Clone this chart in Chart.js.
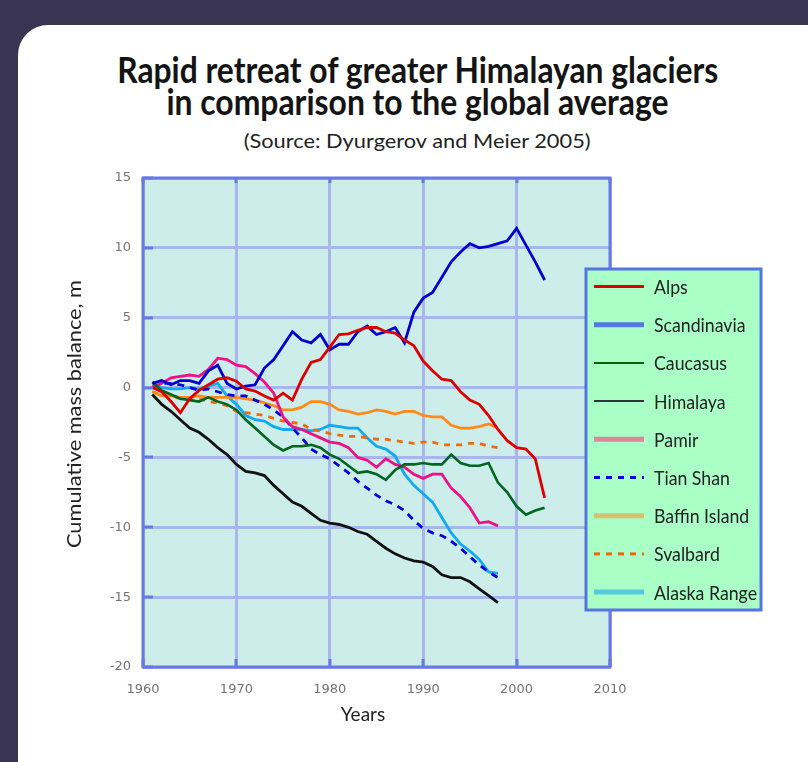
<!DOCTYPE html>
<html><head><meta charset="utf-8">
<script src="https://cdn.jsdelivr.net/npm/chart.js@4.4.1/dist/chart.umd.min.js"></script>
<style>
html,body{margin:0;padding:0;width:808px;height:762px;overflow:hidden;background:#383452;}
#card{position:absolute;left:18px;top:25px;width:830px;height:800px;background:#fff;border-radius:30px;}
.t{position:absolute;left:0;width:835px;text-align:center;white-space:nowrap;color:#141414;font-family:Lato,"Noto Sans",sans-serif;}
.t span{display:inline-block;transform-origin:50% 50%;}
#t1{top:51px;font-weight:bold;font-size:37px;line-height:36px;}
#t2{top:83px;font-weight:bold;font-size:37px;line-height:36px;}
#t3{top:131px;font-size:19px;line-height:19px;color:#222;}
canvas{position:absolute;left:0;top:0;}
</style></head>
<body>
<div id="card"></div>
<div class="t" id="t1"><span data-w="601">Rapid retreat of greater Himalayan glaciers</span></div>
<div class="t" id="t2"><span data-w="502">in comparison to the global average</span></div>
<div class="t" id="t3"><span data-w="347">(Source: Dyurgerov and Meier 2005)</span></div>
<canvas id="c" width="808" height="762"></canvas>
<script>
const years = [1961,1962,1963,1964,1965,1966,1967,1968,1969,1970,1971,1972,1973,1974,1975,1976,1977,1978,1979,1980,1981,1982,1983,1984,1985,1986,1987,1988,1989,1990,1991,1992,1993,1994,1995,1996,1997,1998,1999,2000,2001,2002,2003];
const seriesNames = ['Alps','Scandinavia','Caucasus','Himalaya','Pamir','Tian Shan','Baffin Island','Svalbard','Alaska Range'];
const alps = [0.0,-0.3,-1.0,-1.8,-0.8,-0.2,0.2,0.6,0.7,0.45, -0.1,-0.25,-0.6,-0.9,-0.4,-0.9,0.6,1.8,2.0,2.9, 3.8,3.85,4.1,4.3,4.3,4.0,3.9,3.4,3.0,1.9, 1.2,0.6,0.5,-0.3,-0.9,-1.2,-2.0,-3.0,-3.8,-4.3, -4.4,-5.1,-7.9];
const scandinavia = [0.3,0.5,0.2,0.5,0.5,0.3,1.2,1.6,0.3,-0.1, 0.1,0.2,1.4,2.0,3.0,4.0,3.4,3.2,3.8,2.7, 3.1,3.1,4.0,4.4,3.8,4.0,4.3,3.2,5.4,6.4, 6.8,7.9,9.0,9.7,10.3,10.0,10.1,10.3,10.5,11.4, 10.2,9.0,7.7];
const caucasus = [0.4,-0.2,-0.5,-0.8,-0.9,-1.0,-0.7,-1.0,-1.2,-1.6, -2.3,-2.9,-3.5,-4.1,-4.5,-4.2,-4.2,-4.1,-4.3,-4.8, -5.1,-5.6,-6.1,-6.0,-6.2,-6.6,-5.9,-5.5,-5.5,-5.4, -5.5,-5.5,-4.8,-5.4,-5.6,-5.6,-5.4,-6.8,-7.5,-8.5, -9.1,-8.8,-8.6];
const himalaya = [-0.5,-1.2,-1.7,-2.3,-2.9,-3.2,-3.7,-4.3,-4.8,-5.5, -6.0,-6.1,-6.3,-7.0,-7.6,-8.2,-8.5,-9.0,-9.5,-9.7, -9.8,-10.0,-10.3,-10.5,-11.0,-11.5,-11.9,-12.2,-12.4,-12.5, -12.8,-13.4,-13.6,-13.6,-13.9,-14.4,-14.9,-15.4];
const pamir = [0.0,0.3,0.7,0.8,0.9,0.8,1.3,2.1,2.0,1.6, 1.5,1.0,0.4,-0.4,-2.1,-2.8,-3.0,-3.3,-3.6,-3.9, -4.0,-4.3,-5.0,-5.2,-5.7,-5.1,-5.5,-5.7,-6.2,-6.5, -6.2,-6.2,-7.2,-7.8,-8.6,-9.7,-9.6,-9.9];
const tianShan = [0.0,0.3,0.3,0.2,0.0,-0.2,-0.1,-0.3,-0.5,-0.6, -0.6,-0.9,-1.2,-1.6,-2.1,-2.9,-3.6,-4.4,-4.8,-5.1, -5.6,-6.1,-6.7,-7.2,-7.7,-8.1,-8.4,-8.8,-9.5,-10.1, -10.4,-10.6,-11.0,-11.5,-12.1,-12.7,-13.2,-13.6];
const baffinIsland = [-0.3,-0.6,-0.6,-0.7,-0.7,-0.6,-0.7,-0.7,-0.7,-0.7, -0.8,-0.9,-1.1,-1.3,-1.6,-1.6,-1.4,-1.0,-1.0,-1.2, -1.6,-1.7,-1.9,-1.8,-1.6,-1.7,-1.9,-1.7,-1.7,-2.0, -2.1,-2.1,-2.7,-2.9,-2.9,-2.8,-2.6,-2.9];
const svalbard = [-0.3,-0.5,-0.6,-0.8,-0.9,-0.8,-1.0,-1.1,-1.3,-1.7, -1.8,-1.9,-2.0,-2.2,-2.4,-2.5,-2.6,-3.0,-3.1,-3.3, -3.4,-3.5,-3.5,-3.6,-3.7,-3.7,-3.8,-3.9,-4.0,-3.9, -3.9,-4.1,-4.1,-4.1,-4.0,-4.0,-4.2,-4.3];
const alaskaRange = [0.2,0.0,-0.1,-0.1,0.0,-0.1,0.1,0.3,-0.6,-1.2, -2.0,-2.3,-2.4,-2.8,-3.0,-3.0,-3.0,-3.1,-3.0,-2.7, -2.8,-2.9,-2.9,-3.6,-4.2,-4.4,-4.9,-6.2,-7.0,-7.6, -8.2,-9.3,-10.4,-11.2,-11.7,-12.3,-13.2,-13.3];
const xTickLabels = ['1960','1970','1980','1990','2000','2010'];
const yTickLabels = ['-20','-15','-10','-5','0','5','10','15'];
const yAxisTitle = 'Cumulative mass balance, m';
const xAxisTitle = 'Years';

// styles
const lineColors = ['#dd0000','#0000cc','#006622','#111111','#ee1188','#0000dd','#ff8a1a','#ee6a10','#11aaee'];
const lineWidths = [2.8,2.8,2.6,2.8,2.8,2.8,2.8,2.8,2.8];
const lineDashes = [[],[],[],[],[],[7,6],[],[6,6],[]];
const legendColors = ['#dd0000','#5577dd','#006600','#333333','#dd8899','#0000dd','#d8c070','#ee6611','#55ccdd'];
const legendWidths = [3,5,2,2,5,3,5,3,5];
const legendDashes = [[],[],[],[],[],[6,6],[],[6,6],[]];

// fit titles
document.querySelectorAll('.t span').forEach(s=>{
  const w = s.getBoundingClientRect().width;
  s.style.transform = 'scaleX(' + (parseFloat(s.dataset.w)/w) + ')';
});

const allSeries = [alps,scandinavia,caucasus,himalaya,pamir,tianShan,baffinIsland,svalbard,alaskaRange];
const datasets = allSeries.map((vals,i)=>({
  label: seriesNames[i],
  data: vals.map((v,j)=>({x:years[j], y:v})),
  borderColor: lineColors[i],
  backgroundColor: lineColors[i],
  borderWidth: lineWidths[i],
  borderDash: lineDashes[i],
  pointRadius: 0,
  tension: 0,
  fill: false
}));

const plotDeco = {
  id:'plotDeco',
  beforeDraw(chart){
    const {ctx, chartArea:a} = chart;
    ctx.save();
    ctx.fillStyle = '#ccede9';
    ctx.fillRect(a.left, a.top, a.right-a.left, a.bottom-a.top);
    ctx.restore();
  },
  afterDraw(chart){
    const {ctx, chartArea:a, scales} = chart;
    ctx.save();
    ctx.strokeStyle = '#6878e4'; ctx.lineWidth = 3;
    scales.y.ticks.forEach(t=>{
      const y = Math.round(scales.y.getPixelForValue(t.value));
      ctx.beginPath(); ctx.moveTo(a.left, y); ctx.lineTo(a.left+10, y); ctx.stroke();
    });
    scales.x.ticks.forEach(t=>{
      const x = Math.round(scales.x.getPixelForValue(t.value));
      ctx.beginPath(); ctx.moveTo(x, a.bottom); ctx.lineTo(x, a.bottom-8); ctx.stroke();
      ctx.beginPath(); ctx.moveTo(x, a.top); ctx.lineTo(x, a.top+5); ctx.stroke();
    });
    ctx.strokeStyle = '#6a78e6'; ctx.lineWidth = 3;
    ctx.strokeRect(a.left, a.top, a.right-a.left, a.bottom-a.top);
    // legend
    const lx = 586, ly = 269, lw = 175, lh = 341;
    ctx.fillStyle = '#aaffc6';
    ctx.fillRect(lx, ly, lw, lh);
    ctx.strokeStyle = '#5577dd'; ctx.lineWidth = 3;
    ctx.strokeRect(lx, ly, lw, lh);
    ctx.font = '20px Lato, "Noto Sans", sans-serif';
    const sx = 103 / ctx.measureText('Alaska Range').width;
    chart.data.datasets.forEach((ds,i)=>{
      const y = 286.5 + i*38.2;
      ctx.beginPath();
      ctx.strokeStyle = legendColors[i]; ctx.lineWidth = legendWidths[i];
      ctx.setLineDash(legendDashes[i]);
      ctx.moveTo(594, y); ctx.lineTo(644, y); ctx.stroke();
      ctx.setLineDash([]);
      ctx.save();
      ctx.translate(654, y+7.5); ctx.scale(sx,1);
      ctx.fillStyle = '#222'; ctx.textBaseline = 'alphabetic'; ctx.textAlign = 'left';
      ctx.fillText(ds.label, 0, 0);
      ctx.restore();
    });
    // axis titles
    ctx.fillStyle = '#222';
    ctx.font = '19px Lato, "Noto Sans", sans-serif';
    ctx.textAlign = 'center'; ctx.textBaseline = 'middle';
    ctx.save();
    ctx.translate(75, 414); ctx.rotate(-Math.PI/2);
    const sy = 268 / ctx.measureText(yAxisTitle).width;
    ctx.scale(sy,1);
    ctx.fillText(yAxisTitle, 0, 0);
    ctx.restore();
    ctx.fillText(xAxisTitle, 363, 715);
    ctx.restore();
  }
};

new Chart(document.getElementById('c'), {
  type:'line',
  data:{datasets},
  options:{
    responsive:false,
    animation:false,
    events:[],
    layout:{padding:{left:20,right:198,top:178,bottom:10}},
    plugins:{legend:{display:false},tooltip:{enabled:false},title:{display:false}},
    scales:{
      x:{
        type:'linear', min:1960, max:2010,
        afterFit(s){ s.height = 762-667-10; },
        grid:{color:'#a9b6ee', lineWidth:3, drawTicks:false},
        border:{display:false},
        ticks:{stepSize:10, padding:15, color:'#737373', font:{family:'"DejaVu Sans"', size:13},
          callback:(v)=>xTickLabels[xTickLabels.indexOf(String(v))] ?? ''}
      },
      y:{
        min:-20, max:15,
        afterFit(s){ s.width = 143-20; },
        grid:{color:'#a9b6ee', lineWidth:3, drawTicks:false},
        border:{display:false},
        ticks:{stepSize:5, padding:12, color:'#737373', font:{family:'"DejaVu Sans"', size:13},
          callback:(v)=>yTickLabels[yTickLabels.indexOf(String(v))] ?? ''}
      }
    }
  },
  plugins:[plotDeco]
});
</script>
</body></html>
